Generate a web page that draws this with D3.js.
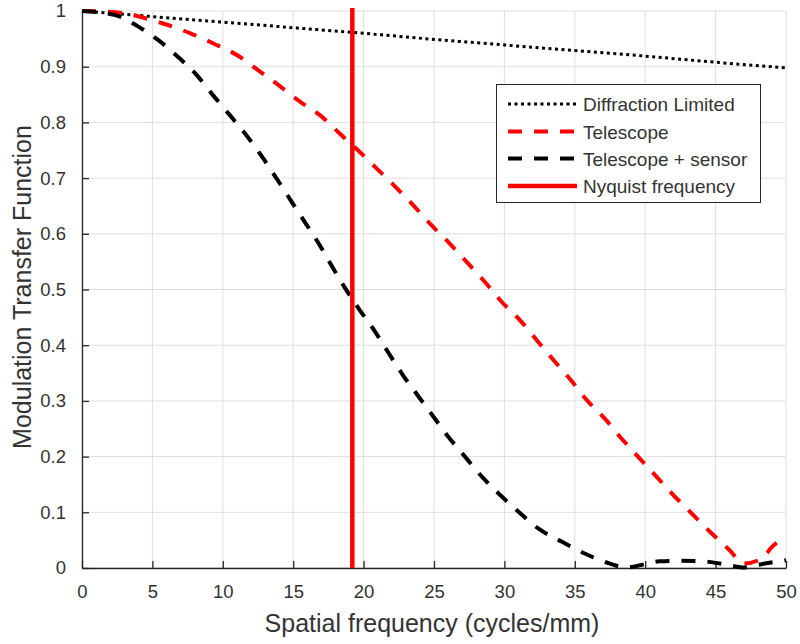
<!DOCTYPE html>
<html>
<head>
<meta charset="utf-8">
<script src="https://cdn.jsdelivr.net/npm/d3@7"></script>
<style>
  body { margin: 0; background: #fff; }
  text { font-family: "Liberation Sans", Arial, sans-serif; fill: #333; }
</style>
</head>
<body>
<div id="chart"></div>
<script>
// values
var diffFreq = [0, 5, 10, 15, 20, 25, 30, 35, 40, 45, 50]
var diffMtf = [1, 0.990, 0.980, 0.970, 0.960, 0.949, 0.939, 0.929, 0.919, 0.908, 0.898]

var telFreq = [0, 2.2, 5.7, 7.7, 9.3, 11, 12.5, 13.8, 15.5, 16.9, 18.3, 19.6, 20.9, 22.35, 23.5, 24.8, 26.1, 27.3, 28.6, 29.8, 31.1, 32.3, 33.5, 34.7, 35.8, 37.1, 38.3, 39.6, 40.8, 42, 43.3, 44.6, 46, 47, 48.3, 49, 50]
var telMtf = [1, 0.998, 0.978, 0.96, 0.942, 0.921, 0.894, 0.87, 0.837, 0.813, 0.78, 0.75, 0.718, 0.682, 0.652, 0.616, 0.583, 0.55, 0.514, 0.478, 0.445, 0.409, 0.373, 0.338, 0.303, 0.269, 0.233, 0.197, 0.164, 0.131, 0.098, 0.065, 0.032, 0.008, 0.017, 0.038, 0.055]

var senFreq = [0, 2.3, 4, 5.4, 6.8, 8.15, 9.3, 10.5, 11.7, 12.8, 13.8, 14.8, 15.8, 16.8, 17.7, 18.7, 19.7, 20.8, 21.8, 22.8, 23.9, 24.95, 26, 27.2, 28.4, 29.7, 31, 32.4, 34.1, 35.7, 37.5, 38.6, 40, 41, 42.5, 44.5, 45.8, 46.9, 48.5, 50]
var senMtf = [1, 0.993, 0.972, 0.948, 0.918, 0.885, 0.849, 0.813, 0.776, 0.738, 0.70, 0.661, 0.622, 0.583, 0.544, 0.502, 0.464, 0.425, 0.385, 0.346, 0.308, 0.272, 0.236, 0.2, 0.164, 0.131, 0.101, 0.071, 0.047, 0.026, 0.008, 0.001, 0.007, 0.012, 0.013, 0.011, 0.006, 0.001, 0.008, 0.014]

var nyquist = 19.2

var xTicks = [0, 5, 10, 15, 20, 25, 30, 35, 40, 45, 50]
var yTicks = [0, 0.1, 0.2, 0.3, 0.4, 0.5, 0.6, 0.7, 0.8, 0.9, 1]

var legendNames = ["Diffraction Limited", "Telescope", "Telescope + sensor", "Nyquist frequency"]

var W = 800, H = 644
//plot box edges, named so they don't clash with window.top
var pLeft = 82, pRight = 786, pTop = 11, pBottom = 568

var svg = d3.select("#chart").append("svg")
  .attr("width", W).attr("height", H)

svg.append("rect").attr("width", W).attr("height", H).attr("fill", "#fff")

var x = d3.scaleLinear().domain([0, 50]).range([pLeft, pRight])
var y = d3.scaleLinear().domain([0, 1]).range([pBottom, pTop])

// grid
svg.append("g").selectAll("line").data(xTicks).enter().append("line")
  .attr("x1", d => x(d)).attr("x2", d => x(d))
  .attr("y1", pTop).attr("y2", pBottom)
  .attr("stroke", "#dedede").attr("stroke-width", 1)
svg.append("g").selectAll("line").data(yTicks).enter().append("line")
  .attr("x1", pLeft).attr("x2", pRight)
  .attr("y1", d => y(d)).attr("y2", d => y(d))
  .attr("stroke", "#dedede").attr("stroke-width", 1)

// axes (inward ticks, no box)
var xAxis = svg.append("g").attr("transform", `translate(0,${pBottom})`)
  .call(d3.axisBottom(x).tickValues(xTicks).tickSizeInner(-7).tickSizeOuter(0).tickPadding(17).tickFormat(d3.format("d")))
var yAxis = svg.append("g").attr("transform", `translate(${pLeft},0)`)
  .call(d3.axisLeft(y).tickValues(yTicks).tickSizeInner(-7).tickSizeOuter(0).tickPadding(16).tickFormat(d => d === 0 || d === 1 ? d : d3.format(".1f")(d)))

;[xAxis, yAxis].forEach(function(a) {
  a.select(".domain").attr("stroke", "#262626").attr("stroke-width", 1.3)
  a.selectAll(".tick line").attr("stroke", "#262626").attr("stroke-width", 1.3)
  a.selectAll(".tick text").style("font-size", "18.5px").attr("fill", "#333")
    .style("font-family", "'Liberation Sans', Arial, sans-serif")
})
xAxis.selectAll(".tick text").attr("y", 17)

// axis labels
svg.append("text").attr("x", 432).attr("y", 632)
  .attr("text-anchor", "middle").style("font-size", "25px")
  .text("Spatial frequency (cycles/mm)")
svg.append("text").attr("transform", "translate(31,287) rotate(-90)")
  .attr("text-anchor", "middle").style("font-size", "25px")
  .text("Modulation Transfer Function")

var line = d3.line().x(d => x(d[0])).y(d => y(d[1])).curve(d3.curveMonotoneX)

var plotG = svg.append("g")

plotG.append("path").datum(diffFreq.map((f, i) => [f, diffMtf[i]]))
  .attr("d", line).attr("fill", "none")
  .attr("stroke", "#000").attr("stroke-width", 3).attr("stroke-dasharray", "3,3.5")

plotG.append("path").datum(telFreq.map((f, i) => [f, telMtf[i]]))
  .attr("d", line).attr("fill", "none")
  .attr("stroke", "#ff0000").attr("stroke-width", 4).attr("stroke-dasharray", "14,12")

plotG.append("path").datum(senFreq.map((f, i) => [f, senMtf[i]]))
  .attr("d", line).attr("fill", "none")
  .attr("stroke", "#000").attr("stroke-width", 4).attr("stroke-dasharray", "14,12")

plotG.append("line")
  .attr("x1", x(nyquist)).attr("x2", x(nyquist))
  .attr("y1", y(0)).attr("y2", y(1) - 3)
  .attr("stroke", "#ff0000").attr("stroke-width", 4.5)

// legend
var lg = svg.append("g")
lg.append("rect").attr("x", 496.5).attr("y", 84.5).attr("width", 264).attr("height", 118)
  .attr("fill", "#fff").attr("stroke", "#262626").attr("stroke-width", 1)

var legStyles = [
  { color: "#000", w: 3, dash: "3,3.5" },
  { color: "#ff0000", w: 4, dash: "14,12" },
  { color: "#000", w: 4, dash: "14,12" },
  { color: "#ff0000", w: 4.5, dash: null }
]
var rowY = [104, 131.5, 158.5, 186]

legendNames.forEach(function(name, i) {
  lg.append("line").attr("x1", 508).attr("x2", 577)
    .attr("y1", rowY[i]).attr("y2", rowY[i])
    .attr("stroke", legStyles[i].color).attr("stroke-width", legStyles[i].w)
    .attr("stroke-dasharray", legStyles[i].dash)
  lg.append("text").attr("x", 583).attr("y", rowY[i] + 7)
    .style("font-size", "19px").attr("fill", "#222")
    .text(name)
})
</script>
</body>
</html>
